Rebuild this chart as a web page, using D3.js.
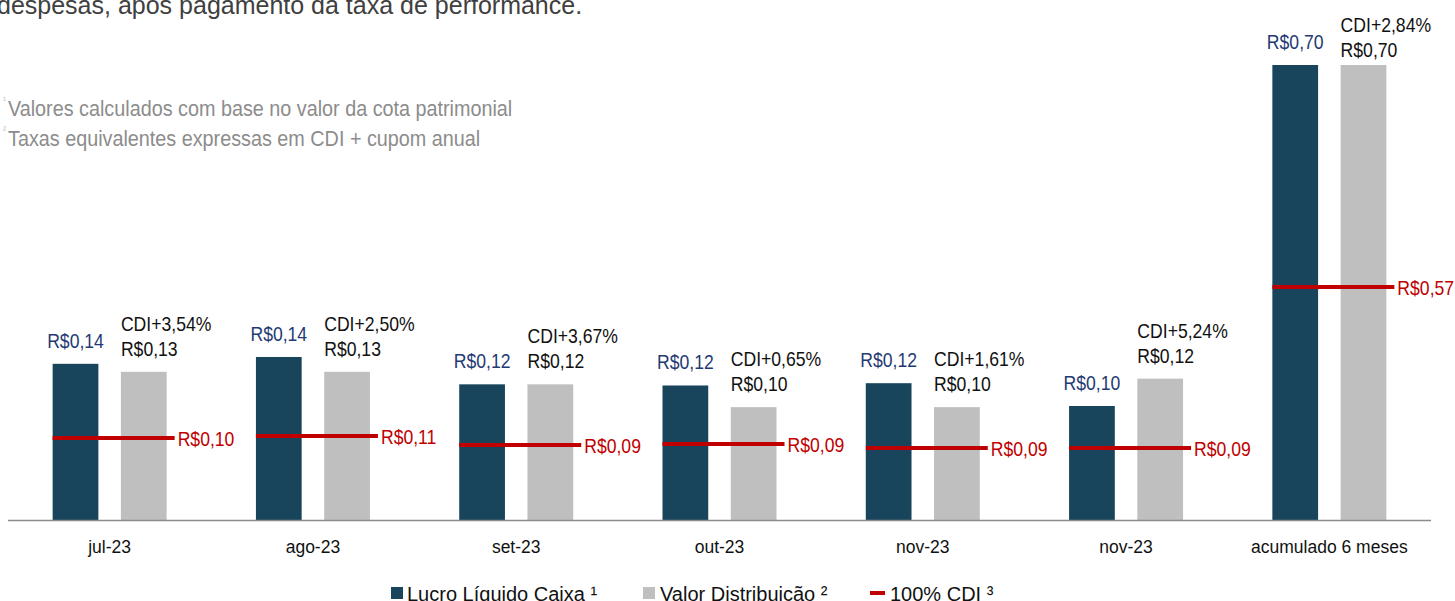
<!DOCTYPE html>
<html>
<head>
<meta charset="utf-8">
<script src="https://cdn.jsdelivr.net/npm/d3@7"></script>
<style>
  body { margin: 0; background: #fff; }
  svg { display: block; font-family: "Liberation Sans", Arial, sans-serif; }
</style>
</head>
<body>
<svg width="1455" height="601"></svg>
<script>
// dados
const categorias = ['jul-23', 'ago-23', 'set-23', 'out-23', 'nov-23', 'nov-23', 'acumulado 6 meses']
const lucroLiquido = [0.137, 0.143, 0.119, 0.118, 0.120, 0.100, 0.70]
const valorDistribuicao = [0.130, 0.130, 0.119, 0.099, 0.099, 0.124, 0.70]
const cdi100 = [0.1025, 0.1051, 0.0938, 0.0949, 0.090, 0.090, 0.57]
const spreadCdi = [3.54, 2.50, 3.67, 0.65, 1.61, 5.24, 2.84]
const legendaItens = ['Lucro Líquido Caixa ¹', 'Valor Distribuição ²', '100% CDI ³']

const svg = d3.select('svg')
const base = 520
const f = d3.format('.2f')
const brl = v => 'R$' + f(v).replace('.', ',')
const pct = v => 'CDI+' + f(v).replace('.', ',') + '%'

const corLucro = '#18455B'
const corDist = '#BFBFBF'
const corCdi = '#C00000'
const corAzul = '#1F3A74'

// eixo x: um grupo por mês (índice, porque nov-23 aparece duas vezes)
const x0 = d3.scaleBand()
    .domain(d3.range(categorias.length))
    .range([8, 1431])
const x1 = d3.scaleBand()
    .domain(['lucro', 'dist'])
    .range([-57, 57])
    .paddingInner(0.33)

// escalas verticais: meses e acumulado não compartilham a mesma escala no original
const yBar = d3.scaleLinear().domain([0, 0.1]).range([base, base - 114])
const yCdi = d3.scaleLinear().domain([0, 0.1]).range([base, base - 80])
const yAccBar = d3.scaleLinear().domain([0, 0.70]).range([base, 65])
const yAccCdi = d3.scaleLinear().domain([0, 0.57]).range([base, 287])
const acc = i => i === categorias.length - 1
const yB = (v, i) => acc(i) ? yAccBar(v) : yBar(v)
const yC = (v, i) => acc(i) ? yAccCdi(v) : yCdi(v)

// texto comprimido na horizontal, como no original
function label(g, x, y, txt, anchor, color, size, sx) {
    return g.append('text')
        .attr('transform', `translate(${x},${y}) scale(${sx || 0.88},1)`)
        .attr('text-anchor', anchor)
        .attr('fill', color)
        .style('font-size', (size || 20) + 'px')
        .text(txt)
}

// título cortado e notas
svg.append('text')
    .attr('x', -3).attr('y', 14)
    .attr('fill', '#404040')
    .style('font-size', '25px')
    .text('despesas, após pagamento da taxa de performance.')

const notas = ['Valores calculados com base no valor da cota patrimonial', 'Taxas equivalentes expressas em CDI + cupom anual']
notas.forEach(function (n, i) {
    label(svg, 8, 116 + i * 30, n, 'start', '#8C8C8C', 22, 0.9)
    svg.append('text')
        .attr('x', 6).attr('y', 103 + i * 30)
        .attr('text-anchor', 'end')
        .attr('fill', '#BDBDBD')
        .style('font-size', '9px')
        .text(i === 0 ? '¹' : '²')
})

// barras
const grupos = svg.append('g').selectAll('g')
    .data(categorias.map((c, i) => i))
    .join('g')
    .attr('transform', i => `translate(${x0(i) + x0.bandwidth() / 2},0)`)

grupos.append('rect')
    .attr('x', x1('lucro'))
    .attr('width', x1.bandwidth())
    .attr('y', i => yB(lucroLiquido[i], i))
    .attr('height', i => base - yB(lucroLiquido[i], i))
    .attr('fill', corLucro)

grupos.append('rect')
    .attr('x', x1('dist'))
    .attr('width', x1.bandwidth())
    .attr('y', i => yB(valorDistribuicao[i], i))
    .attr('height', i => base - yB(valorDistribuicao[i], i))
    .attr('fill', corDist)

// linha 100% CDI
grupos.append('line')
    .attr('x1', x1('lucro'))
    .attr('x2', x1('dist') + x1.bandwidth() + 8)
    .attr('y1', i => yC(cdi100[i], i))
    .attr('y2', i => yC(cdi100[i], i))
    .attr('stroke', corCdi)
    .attr('stroke-width', 4)

// rótulos
grupos.each(function (i) {
    const g = d3.select(this)
    const topL = yB(lucroLiquido[i], i)
    const topD = Math.max(yB(valorDistribuicao[i], i) - 16, 57)
    label(g, x1('lucro') + x1.bandwidth() / 2, topL - 16, brl(lucroLiquido[i]), 'middle', corAzul)
    label(g, x1('dist'), topD, brl(valorDistribuicao[i]), 'start', '#111')
    label(g, x1('dist'), topD - 25, pct(spreadCdi[i]), 'start', '#111')
    label(g, x1('dist') + x1.bandwidth() + 11, yC(cdi100[i], i) + 8, brl(cdi100[i]), 'start', corCdi)
})

// eixo
svg.append('line')
    .attr('x1', 8).attr('x2', 1431)
    .attr('y1', base + 0.5).attr('y2', base + 0.5)
    .attr('stroke', '#8C8C8C')
    .attr('stroke-width', 1.5)

svg.append('g').selectAll('text')
    .data(categorias)
    .join('text')
    .attr('x', (d, i) => x0(i) + x0.bandwidth() / 2)
    .attr('y', 553)
    .attr('text-anchor', 'middle')
    .attr('fill', '#111')
    .style('font-size', '17.5px')
    .text(d => d)

// legenda
const leg = svg.append('g')
leg.append('rect').attr('x', 391).attr('y', 587).attr('width', 12).attr('height', 12).attr('fill', corLucro)
leg.append('rect').attr('x', 643).attr('y', 587).attr('width', 12).attr('height', 12).attr('fill', corDist)
leg.append('line').attr('x1', 870).attr('x2', 885).attr('y1', 593).attr('y2', 593)
    .attr('stroke', corCdi).attr('stroke-width', 4)
const legX = [407, 660, 890]
legendaItens.forEach(function (t, i) {
    leg.append('text')
        .attr('x', legX[i]).attr('y', 601)
        .attr('fill', '#111')
        .style('font-size', '20px')
        .text(t)
})
</script>
</body>
</html>
